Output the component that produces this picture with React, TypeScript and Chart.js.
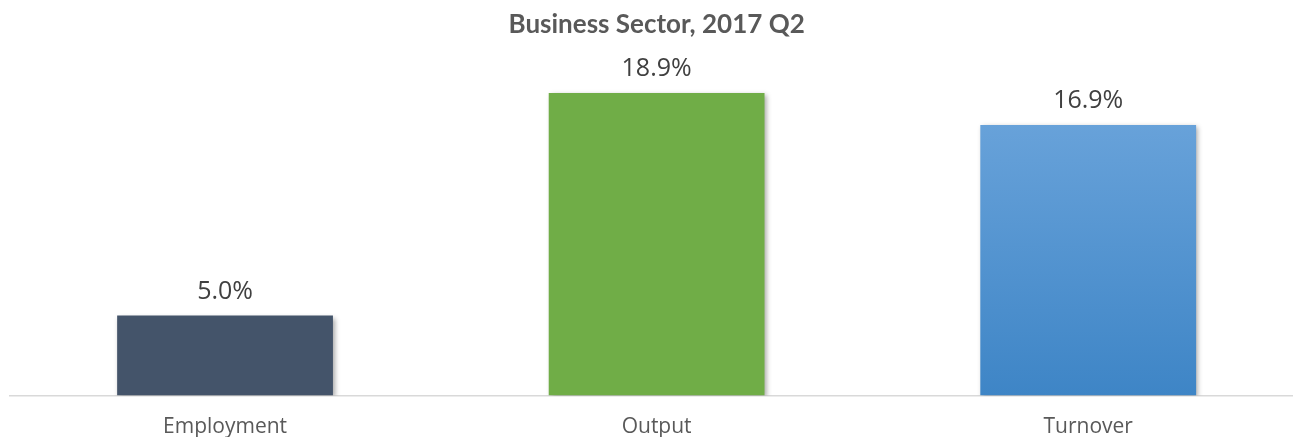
import React, { useEffect, useRef } from "react";
import { Chart, registerables } from "chart.js";

Chart.register(...registerables);

const titleText = "Business Sector, 2017 Q2";
const categories = ["Employment", "Output", "Turnover"];
const values = [5.0, 18.9, 16.9];
const solidColors = ["#44546A", "#70AD47", null];
const gradientTop = "#6FA7DD";
const gradientBottom = "#3E85C6";
const yMin = 0;
const yMax = 20;

const shadowPlugin = {
  id: "barShadow",
  beforeDatasetsDraw(chart: any) {
    const ctx = chart.ctx;
    ctx.save();
    ctx.shadowColor = "rgba(0,0,0,0.35)";
    ctx.shadowBlur = 5;
    ctx.shadowOffsetX = 2;
    ctx.shadowOffsetY = 2;
  },
  afterDatasetsDraw(chart: any) {
    chart.ctx.restore();
  },
};

const labelPlugin = {
  id: "valueLabels",
  afterDatasetsDraw(chart: any) {
    const ctx = chart.ctx;
    const meta = chart.getDatasetMeta(0);
    ctx.save();
    ctx.font = "25px 'Open Sans'";
    ctx.fillStyle = "#404040";
    ctx.textAlign = "center";
    ctx.textBaseline = "alphabetic";
    meta.data.forEach((bar: any, i: number) => {
      ctx.fillText(values[i].toFixed(1) + "%", bar.x, bar.y - 17);
    });
    ctx.restore();
  },
};

export default function App() {
  const ref = useRef<HTMLCanvasElement>(null);
  useEffect(() => {
    const canvas = ref.current!;
    const chart = new Chart(canvas, {
      type: "bar",
      data: {
        labels: categories,
        datasets: [
          {
            data: values,
            backgroundColor: (c: any) => {
              const col = solidColors[c.dataIndex];
              if (col) return col;
              const area = c.chart.chartArea;
              if (!area) return gradientBottom;
              const el = c.chart.getDatasetMeta(0).data[c.dataIndex];
              const top = el && el.y ? el.y : area.top;
              const g = c.chart.ctx.createLinearGradient(0, top, 0, area.bottom);
              g.addColorStop(0, gradientTop);
              g.addColorStop(1, gradientBottom);
              return g;
            },
            borderWidth: 0,
            categoryPercentage: 1,
            barPercentage: 0.5,
          },
        ],
      },
      options: {
        animation: false,
        responsive: false,
        maintainAspectRatio: false,
        layout: { padding: { left: 9.25, right: 0, top: 0, bottom: 0 } },
        plugins: {
          legend: { display: false },
          tooltip: { enabled: false },
          title: {
            display: true,
            text: titleText,
            color: "#595959",
            font: { family: "Lato", size: 26, weight: "bold" },
            padding: { top: 9, bottom: 35.3 },
          },
        },
        scales: {
          x: {
            grid: { display: false, drawTicks: false },
            border: { display: true, color: "#D9D9D9", width: 1.5 },
            ticks: {
              color: "#595959",
              font: { family: "Open Sans", size: 21 },
              padding: 19,
            },
            afterFit(scale: any) {
              scale.height = 41.5;
            },
          },
          y: {
            display: false,
            min: yMin,
            max: yMax,
          },
        },
      },
      plugins: [shadowPlugin, labelPlugin],
    });
    return () => chart.destroy();
  }, []);
  return (
    <div
      style={{
        position: "fixed",
        left: 0,
        top: 0,
        width: 1293,
        height: 437,
        overflow: "hidden",
        background: "#fff",
      }}
    >
      <canvas ref={ref} width={1304} height={437} style={{ width: 1304, height: 437, display: "block" }} />
    </div>
  );
}
